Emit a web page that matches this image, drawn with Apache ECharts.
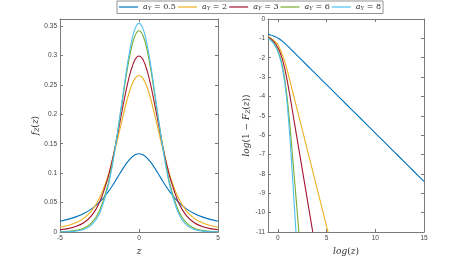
<!DOCTYPE html>
<html><head><meta charset="utf-8">
<script src="https://cdn.jsdelivr.net/npm/echarts@6/dist/echarts.min.js"></script>
<style>html,body{margin:0;padding:0;background:#fff}#c{width:469px;height:261px}</style>
</head><body><div id="c"></div>
<script>
// ---- data ----
const legendNames = ['0.5', '2', '3', '6', '8'];
const colors = ['#0072BD', '#EDB120', '#A2142F', '#77AC30', '#4DBEEE'];

// left panel: pdf f_Z(z)
const zVals = [-5,-4.5,-4,-3.5,-3,-2.5,-2,-1.75,-1.5,-1.25,-1,-0.75,-0.5,-0.25,0,0.25,0.5,0.75,1,1.25,1.5,1.75,2,2.5,3,3.5,4,4.5,5];
const pdfA05 = [0.0184,0.0215,0.0257,0.0314,0.0393,0.0507,0.0665,0.0761,0.0867,0.0977,0.1085,0.1183,0.1261,0.1312,0.1330,0.1312,0.1261,0.1183,0.1085,0.0977,0.0867,0.0761,0.0665,0.0507,0.0393,0.0314,0.0257,0.0215,0.0184];
const pdfA2  = [0.0080,0.0110,0.0156,0.0232,0.0360,0.0576,0.0923,0.1153,0.1416,0.1700,0.1987,0.2252,0.2469,0.2610,0.2660,0.2610,0.2469,0.2252,0.1987,0.1700,0.1416,0.1153,0.0923,0.0576,0.0360,0.0232,0.0156,0.0110,0.0080];
const pdfA3  = [0.0038,0.0058,0.0093,0.0157,0.0278,0.0502,0.0889,0.1155,0.1466,0.1809,0.2159,0.2486,0.2754,0.2931,0.2992,0.2931,0.2754,0.2486,0.2159,0.1809,0.1466,0.1155,0.0889,0.0502,0.0278,0.0157,0.0093,0.0058,0.0038];
const pdfA6  = [0.0006,0.0012,0.0027,0.0063,0.0154,0.0361,0.0774,0.1082,0.1456,0.1881,0.2327,0.2751,0.3103,0.3337,0.3420,0.3337,0.3103,0.2751,0.2327,0.1881,0.1456,0.1082,0.0774,0.0361,0.0154,0.0063,0.0027,0.0012,0.0006];
const pdfA8  = [0.0002,0.0005,0.0015,0.0043,0.0120,0.0314,0.0727,0.1043,0.1435,0.1885,0.2363,0.2820,0.3202,0.3457,0.3546,0.3457,0.3202,0.2820,0.2363,0.1885,0.1435,0.1043,0.0727,0.0314,0.0120,0.0043,0.0015,0.0005,0.0002];

// right panel: log(1 - F_Z(z)) vs log(z)
const logzA05 = [-1,-0.75,-0.5,-0.25,0,0.25,0.5,0.75,1,1.25,1.5,2,3,4,5,6,7,8,9,10,11,12,13,14,15];
const tailA05 = [-0.795,-0.825,-0.864,-0.915,-0.979,-1.060,-1.157,-1.271,-1.390,-1.514,-1.639,-1.889,-2.389,-2.889,-3.389,-3.889,-4.389,-4.889,-5.389,-5.889,-6.389,-6.889,-7.389,-7.889,-8.389];
const logzA2 = [-1,-0.75,-0.5,-0.25,0,0.25,0.5,0.75,1,1.25,1.5,2,3,4,5,5.153];
const tailA2 = [-0.908,-0.975,-1.066,-1.189,-1.305,-1.579,-1.876,-2.256,-2.705,-3.194,-3.693,-4.693,-6.693,-8.693,-10.693,-11.0];
const logzA3 = [-1,-0.75,-0.5,-0.25,0,0.25,0.5,0.75,1,1.25,1.5,2,2.5,3,3.591];
const tailA3 = [-0.938,-1.016,-1.122,-1.267,-1.467,-1.743,-2.122,-2.628,-3.260,-3.979,-4.726,-6.226,-7.726,-9.226,-11.0];
const logzA6 = [-1,-0.75,-0.5,-0.25,0,0.25,0.5,0.75,1,1.25,1.5,1.75,2,2.169];
const tailA6 = [-0.977,-1.070,-1.197,-1.374,-1.622,-1.977,-2.485,-3.214,-4.225,-5.522,-6.987,-8.485,-9.985,-11.0];
const logzA8 = [-1,-0.75,-0.5,-0.25,0,0.25,0.5,0.75,1,1.25,1.5,1.75,1.870];
const tailA8 = [-0.989,-1.086,-1.220,-1.406,-1.670,-2.050,-2.601,-3.408,-4.568,-6.147,-8.045,-10.039,-11.0];

// ticks
const leftXTicks = [-5, 0, 5];
const leftYTicks = [0, 0.05, 0.1, 0.15, 0.2, 0.25, 0.3, 0.35];
const rightXTicks = [0, 5, 10, 15];
const rightYTicks = [0,-1,-2,-3,-4,-5,-6,-7,-8,-9,-10,-11];

// ---- chart ----
const pdfs = [pdfA05, pdfA2, pdfA3, pdfA6, pdfA8];
const tails = [[logzA05, tailA05],[logzA2, tailA2],[logzA3, tailA3],[logzA6, tailA6],[logzA8, tailA8]];
const zip = (xs, ys) => xs.map((x, i) => [x, ys[i]]);

const axisCol = '#7a7a7a';
const labCol = '#444';
const serif = '"DejaVu Serif", "Liberation Serif", serif';
const tickLab = {fontSize: 6.5, color: labCol, fontFamily: 'Liberation Sans, Arial, sans-serif'};

function mkAxis(o) {
  return Object.assign({
    axisLine: {show: true, onZero: false, lineStyle: {color: axisCol, width: 1}},
    splitLine: {show: false},
  }, o);
}

const G = [{left: 60, top: 19, width: 158, height: 213}, {left: 268, top: 19, width: 156, height: 213}];

const xAxes = [
  mkAxis({gridIndex: 0, type: 'value', min: -5, max: 5, position: 'bottom',
    axisTick: {inside: true, length: 3, customValues: leftXTicks, lineStyle: {color: axisCol}},
    axisLabel: {customValues: leftXTicks, margin: 3, ...tickLab},
    name: 'z', nameLocation: 'middle', nameGap: 13,
    nameTextStyle: {fontFamily: serif, fontStyle: 'italic', fontSize: 9, color: '#333'}}),
  mkAxis({gridIndex: 0, type: 'value', min: -5, max: 5, position: 'top',
    axisTick: {inside: true, length: 3, customValues: leftXTicks, lineStyle: {color: axisCol}},
    axisLabel: {show: false}}),
  mkAxis({gridIndex: 1, type: 'value', min: -1, max: 15, position: 'bottom',
    axisTick: {inside: true, length: 3, customValues: rightXTicks, lineStyle: {color: axisCol}},
    axisLabel: {customValues: rightXTicks, margin: 3, ...tickLab},
    name: '{i|log}{r|(}{i|z}{r|)}', nameLocation: 'middle', nameGap: 13,
    nameTextStyle: {rich: {
      i: {fontFamily: serif, fontStyle: 'italic', fontSize: 9, color: '#333'},
      r: {fontFamily: serif, fontSize: 9, color: '#333'}}}}),
  mkAxis({gridIndex: 1, type: 'value', min: -1, max: 15, position: 'top',
    axisTick: {inside: true, length: 3, customValues: rightXTicks, lineStyle: {color: axisCol}},
    axisLabel: {show: false}}),
];

const yAxes = [
  mkAxis({gridIndex: 0, type: 'value', min: 0, max: 0.362, position: 'left',
    axisTick: {inside: true, length: 3, customValues: leftYTicks, lineStyle: {color: axisCol}},
    axisLabel: {customValues: leftYTicks, margin: 3, ...tickLab, formatter: v => String(+(+v).toFixed(2))},
    name: '{i|f}{s|Z}{r|(}{i|z}{r|)}', nameLocation: 'middle', nameGap: 17, nameRotate: 90,
    nameTextStyle: {rich: {
      i: {fontFamily: serif, fontStyle: 'italic', fontSize: 9, color: '#333'},
      s: {fontFamily: serif, fontStyle: 'italic', fontSize: 6, color: '#333', padding: [4, 0, 0, 0]},
      r: {fontFamily: serif, fontSize: 9, color: '#333'}}}}),
  mkAxis({gridIndex: 0, type: 'value', min: 0, max: 0.362, position: 'right',
    axisTick: {inside: true, length: 3, customValues: leftYTicks, lineStyle: {color: axisCol}},
    axisLabel: {show: false}}),
  mkAxis({gridIndex: 1, type: 'value', min: -11, max: 0, position: 'left',
    axisTick: {inside: true, length: 3, customValues: rightYTicks, lineStyle: {color: axisCol}},
    axisLabel: {customValues: rightYTicks, margin: 3, ...tickLab},
    name: '{i|log}{r|(1 − }{i|F}{s|Z}{r|(}{i|z}{r|))}', nameLocation: 'middle', nameGap: 15, nameRotate: 90,
    nameTextStyle: {rich: {
      i: {fontFamily: serif, fontStyle: 'italic', fontSize: 9, color: '#333'},
      s: {fontFamily: serif, fontStyle: 'italic', fontSize: 6, color: '#333', padding: [4, 0, 0, 0]},
      r: {fontFamily: serif, fontSize: 9, color: '#333'}}}}),
  mkAxis({gridIndex: 1, type: 'value', min: -11, max: 0, position: 'right',
    axisTick: {inside: true, length: 3, customValues: rightYTicks, lineStyle: {color: axisCol}},
    axisLabel: {show: false}}),
];

const series = [];
legendNames.forEach((n, k) => {
  series.push({name: n, type: 'line', xAxisIndex: 0, yAxisIndex: 0, data: zip(zVals, pdfs[k]),
    smooth: 0.35, symbol: 'none', lineStyle: {width: 1.1, color: colors[k]}, itemStyle: {color: colors[k]}, z: 2 + k});
});
legendNames.forEach((n, k) => {
  series.push({name: n, type: 'line', xAxisIndex: 2, yAxisIndex: 2, data: zip(tails[k][0], tails[k][1]),
    smooth: 0.35, symbol: 'none', clip: true, lineStyle: {width: 1.1, color: colors[k]}, itemStyle: {color: colors[k]}, z: 2 + k});
});

const chart = echarts.init(document.getElementById('c'), null, {renderer: 'canvas'});
chart.setOption({
  animation: false,
  backgroundColor: '#fff',
  grid: G,
  xAxis: xAxes,
  yAxis: yAxes,
  legend: {
    data: legendNames, left: 117, top: 1, icon: 'rect', itemWidth: 19, itemHeight: 1.2, itemGap: 2,
    padding: [2, 2, 2, 2], borderColor: '#777', borderWidth: 0.8, backgroundColor: '#fff',
    formatter: n => '{i|a}{s|Y}{r| = ' + n + '}',
    textStyle: {rich: {
      i: {fontFamily: serif, fontStyle: 'italic', fontSize: 8, color: '#333'},
      s: {fontFamily: serif, fontStyle: 'italic', fontSize: 5.5, color: '#333', padding: [3, 0, 0, 0]},
      r: {fontFamily: serif, fontSize: 8, color: '#333'}}}
  },
  series: series
});
</script></body></html>
